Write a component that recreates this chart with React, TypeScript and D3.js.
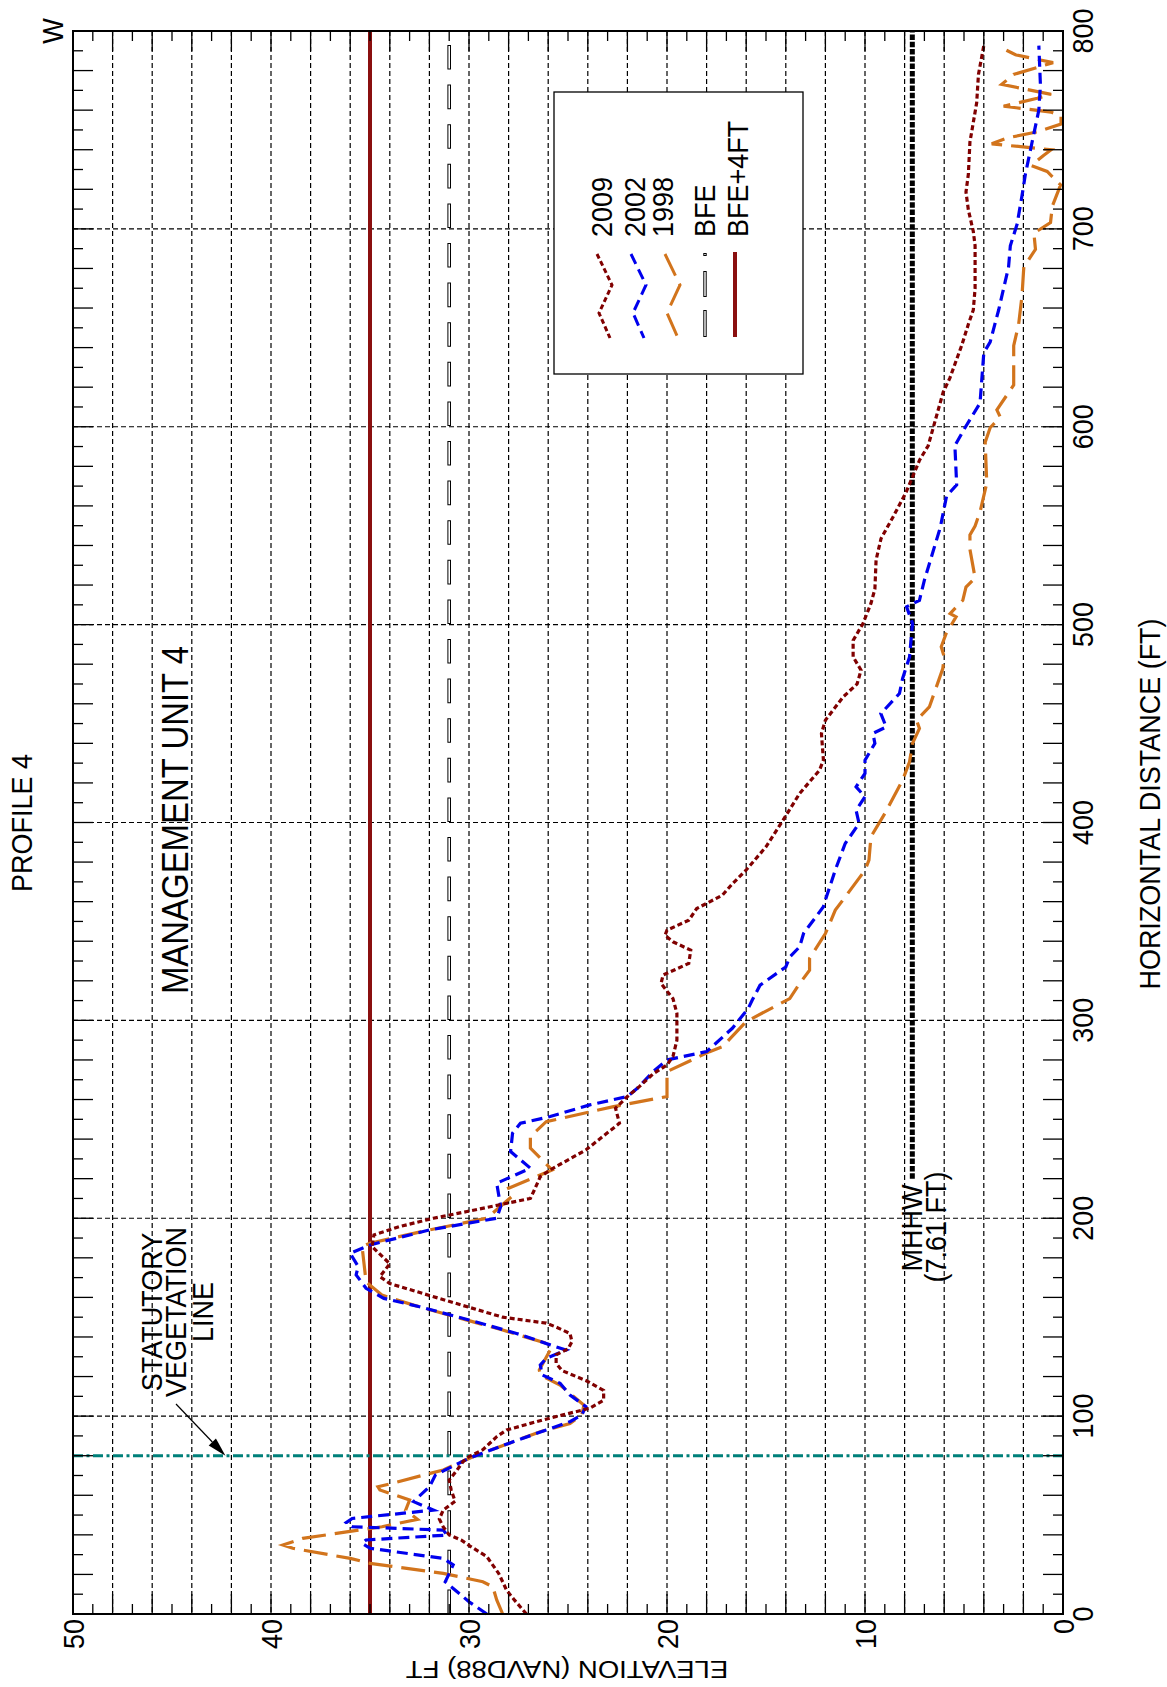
import React from 'react';
import * as d3 from 'd3';

// ---- data: [horizontal distance (ft), elevation (ft NAVD88)] ----
const s2009: [number, number][] = [
  [0, 27.1], [7, 27.7], [12, 28.1], [20.5, 28.5], [29, 29.1], [34, 29.9], [37.4, 30.4], [40, 31.0],
  [44, 31.3], [48, 31.5], [52.5, 31.3], [57, 30.7], [62.7, 30.9], [67.7, 31.0], [72.8, 30.6], [77, 30.3],
  [79.5, 30.0], [83, 29.3], [89.6, 28.6], [93, 28.1], [98, 26.3], [100.5, 25.3], [104, 23.9], [108, 23.2],
  [113, 23.2], [118, 24.1], [123, 25.3], [126.7, 25.6], [131, 25.6], [134, 25.0], [137.6, 24.8], [141.8, 24.9],
  [145, 25.6], [147, 26.1], [150, 28.3], [155, 30.0], [161, 32.0], [167, 34.0], [170.5, 34.5], [177, 34.0],
  [185.7, 34.9], [191.6, 34.8], [195.8, 33.5], [200, 31.8], [203.4, 30.1], [206.7, 28.5], [210, 26.9],
  [214.3, 26.7], [221, 26.4], [225, 25.8], [234.5, 24.1], [248, 22.4], [255.6, 22.6], [261.5, 22.0],
  [266.5, 21.4], [273, 20.7], [277.5, 20.0], [281.7, 19.7], [290, 19.5], [303.6, 19.5], [311, 19.7],
  [318.6, 20.3], [322.9, 20.2], [328.8, 18.9], [335.5, 18.8], [339.7, 19.7], [343, 20.1], [345.6, 20.0],
  [350.6, 18.9], [356.5, 18.5], [363.3, 17.2], [369, 16.7], [376, 16.0], [387.7, 15.0], [401, 14.15],
  [414.7, 13.3], [426.4, 12.3], [431.5, 12.1], [445, 12.2], [451.7, 12.0], [463.5, 11.1], [470, 10.4],
  [477, 10.2], [483.7, 10.6], [492, 10.6], [500.6, 10.1], [510.7, 9.7], [518, 9.5], [532.7, 9.44],
  [543.5, 9.19], [554.3, 8.59], [567, 7.92], [583.2, 7.24], [590.4, 6.81], [617.5, 6.05], [624.7, 5.71],
  [641, 5.12], [651.8, 4.78], [659, 4.53], [669.9, 4.44], [691.5, 4.44], [698.7, 4.53], [709.6, 4.78],
  [718.6, 4.9], [727.6, 4.78], [743.9, 4.7], [763.7, 4.36], [778, 4.27], [792.6, 4.0],
];

const s2002: [number, number][] = [
  [0, 29.1], [6.2, 30.0], [16.3, 31.2], [24.8, 30.8], [28.1, 31.3], [33.2, 35.0], [35.7, 35.4], [37.4, 35.2],
  [39.9, 31.1], [42.4, 31.3], [44.1, 35.9], [46.2, 36.2], [48.3, 35.9], [52.5, 31.8], [56.8, 32.8],
  [64.3, 32.0], [70.2, 31.7], [72.8, 31.2], [78.7, 30.0], [86.2, 28.0], [93, 26.1], [97.2, 24.9],
  [100.6, 24.3], [104.8, 24.1], [110.7, 24.9], [116.6, 25.4], [120.8, 26.3], [125.8, 26.4], [129.2, 26.1],
  [133.4, 25.1], [136, 25.9], [141.8, 27.6], [148.6, 30.0], [155.3, 32.5], [159.5, 34.3], [164.6, 35.2],
  [171.4, 35.7], [175.6, 35.6], [182.3, 36.0], [186.5, 35.0], [194.1, 32.0], [200, 28.6], [205.9, 28.4],
  [217.7, 28.6], [225.3, 26.9], [233.7, 27.9], [243, 27.8], [248, 27.4], [251.4, 25.9], [257.3, 23.9],
  [261.5, 22.0], [265.7, 21.5], [274.1, 20.7], [280, 20.0], [284.2, 18.0], [296, 16.7], [306, 15.9],
  [310.2, 15.7], [317.8, 15.3], [327, 14.0], [332, 13.8], [337.2, 13.3], [344, 13.1], [357.4, 12.1],
  [360.8, 12.0], [376, 11.5], [389.4, 11.0], [399.5, 10.3], [406.2, 10.45], [413, 10.0], [418, 10.45],
  [424.8, 10.0], [431.5, 10.0], [440, 9.5], [445, 9.6], [448.3, 8.93], [455, 9.2], [465.2, 8.26],
  [472.8, 8.1], [483.7, 7.75], [500.6, 7.6], [509, 7.9], [512.3, 7.25], [522.5, 7.0], [549, 6.2],
  [565, 5.88], [570.6, 5.37], [590.4, 5.46], [599.5, 4.95], [612, 4.19], [637.4, 4.0], [642.8, 3.68],
  [659, 3.25], [680.7, 2.75], [691.5, 2.66], [702.3, 2.32], [716.8, 2.07], [727.6, 1.9], [743.9, 1.56],
  [760, 1.22], [772.7, 1.14], [792.6, 1.22],
];

const s1998: [number, number][] = [
  [0, 28.3], [7.1, 28.6], [13.8, 28.8], [16.3, 29.3], [20.5, 31.3], [25.6, 35.0], [28.1, 36.0], [33.2, 38.9],
  [34.9, 39.4], [38.2, 38.4], [44.1, 34.4], [47.8, 32.6], [52.5, 33.2], [57.6, 33.0], [62.7, 34.5],
  [64.3, 34.6], [66, 33.9], [72.8, 31.3], [79.5, 29.8], [86.2, 28.0], [92.1, 26.4], [96.3, 24.9],
  [100.6, 24.3], [105.6, 24.2], [109.8, 24.7], [115.7, 25.4], [120.8, 26.4], [123.3, 26.45], [133.4, 25.9],
  [136.8, 26.1], [143.5, 28.3], [150.2, 30.7], [156.1, 32.8], [161.2, 34.4], [166.2, 35.0], [168, 35.2],
  [185.7, 35.4], [187.4, 35.0], [194.1, 32.0], [200, 29.1], [211.3, 27.8], [215.2, 28.0], [224.4, 25.8],
  [235.4, 26.9], [241.3, 26.9], [248.8, 26.1], [256.4, 22.7], [261.5, 20.0], [274.1, 20.0], [284.2, 17.85],
  [286.7, 17.2], [299.4, 16.0], [311, 13.8], [318.6, 13.3], [325.4, 12.8], [331.3, 12.8], [343.9, 12.0],
  [355.7, 11.5], [362.4, 11.0], [375.9, 10.0], [381, 9.8], [392.8, 9.7], [404.5, 9.0], [421.4, 8.1],
  [430.7, 7.75], [440, 7.6], [447.5, 7.25], [451.7, 7.4], [458.4, 6.75], [477.8, 6.07], [483.7, 6.0],
  [488.8, 6.15], [495.5, 5.9], [503.9, 5.4], [505.6, 5.7], [512.3, 5.06], [519, 4.9], [523.6, 4.44],
  [538, 4.7], [545.3, 4.7], [549.8, 4.44], [557, 4.19], [571.5, 3.85], [592.2, 3.93], [599.5, 3.68],
  [604.9, 3.17], [608.5, 3.34], [621.1, 2.49], [641, 2.49], [651.8, 2.24], [666.2, 2.07], [680.7, 1.98],
  [689.7, 1.39], [697.8, 1.47], [703.2, 0.63], [711.4, 0.54], [722.2, 0.12], [729, 0.8], [732, 1.6],
  [737, 1.0], [740, 0.6], [743, 3.6], [746, 2.8], [749, 1.3], [753, 0.1], [757, 0.1], [759, 0.6],
  [762, 3.0], [766, 1.3], [768, 0.6], [773, 3.1], [778, 2.5], [784, 0.5], [788, 2.4], [791, 3.0],
];

const elevTickLabels = [0, 10, 20, 30, 40, 50];
const distTickLabels = [0, 100, 200, 300, 400, 500, 600, 700, 800];
const BFE = 31;
const BFE_PLUS_4 = 35;
const MHHW = 7.61;
const MHHW_START = 220;
const VEG_LINE = 80;

const FONT = 'Liberation Sans, Arial, Helvetica, sans-serif';
const C2009 = '#800000';
const C2002 = '#0000ee';
const C1998 = '#d2741c';
const CTEAL = '#00807a';

function VText(props: { x: number; y: number; anchor?: string; size?: number; sx?: number; children: React.ReactNode }) {
  const { x, y, anchor = 'middle', size = 30, sx = 0.9, children } = props;
  return (
    <text transform={`translate(${x},${y}) rotate(-90) scale(${sx},1)`} textAnchor={anchor} fontSize={size} fontFamily={FONT} fill="#000">
      {children}
    </text>
  );
}

export default function App() {
  const L = 73, R = 1063, T = 31, B = 1614;
  const xE = d3.scaleLinear().domain([0, 50]).range([R, L]);
  const yD = d3.scaleLinear().domain([0, 800]).range([B, T]);
  const line = d3.line<[number, number]>().x((p) => xE(p[1])).y((p) => yD(p[0]));

  const gridE = d3.range(2, 50, 2);
  const gridD = d3.range(100, 800, 100);
  const ticksE = d3.range(1, 50, 1);
  const ticksD = d3.range(10, 800, 10);

  // arrow geometry
  const a0 = [176, 1404], a1 = [xE(42.3), yD(VEG_LINE)];
  const dx = a1[0] - a0[0], dy = a1[1] - a0[1];
  const len = Math.hypot(dx, dy);
  const ux = dx / len, uy = dy / len;
  const bx = a1[0] - 19 * ux, by = a1[1] - 19 * uy;
  const px = -uy, py = ux;
  const head = `${a1[0]},${a1[1]} ${bx + 5 * px},${by + 5 * py} ${bx - 5 * px},${by - 5 * py}`;

  const zig = (x0: number) =>
    `M${x0},254 L${x0 + 15},285 L${x0 + 2},313 L${x0 + 13},338`;

  return (
    <svg width={1167} height={1687} style={{ position: 'absolute', left: 0, top: 0 }}>
      <rect x={0} y={0} width={1167} height={1687} fill="#fff" />

      {/* grid */}
      <g stroke="#000" strokeWidth={1.2} strokeDasharray="5,3" fill="none">
        {gridE.map((e) => (
          <line key={'ge' + e} x1={xE(e)} x2={xE(e)} y1={T} y2={B} />
        ))}
        {gridD.map((d) => (
          <line key={'gd' + d} x1={L} x2={R} y1={yD(d)} y2={yD(d)} />
        ))}
      </g>

      {/* reference lines */}
      <line x1={xE(BFE_PLUS_4)} x2={xE(BFE_PLUS_4)} y1={B} y2={T} stroke="#8a0f0f" strokeWidth={4} />
      <line x1={xE(BFE)} x2={xE(BFE)} y1={B} y2={T} stroke="#000" strokeWidth={3.6} strokeDasharray="24.6,15" />
      <line x1={xE(BFE)} x2={xE(BFE)} y1={B - 1} y2={T} stroke="#fff" strokeWidth={1.6} strokeDasharray="22.6,17" />
      <line x1={L} x2={R} y1={yD(VEG_LINE)} y2={yD(VEG_LINE)} stroke={CTEAL} strokeWidth={3} strokeDasharray="10,3.5,3,3.5" />
      <line x1={xE(MHHW)} x2={xE(MHHW)} y1={yD(MHHW_START)} y2={yD(800)} stroke="#000" strokeWidth={5} strokeDasharray="5.5,1.8" />

      {/* profiles */}
      <path d={line(s1998) || ''} fill="none" stroke={C1998} strokeWidth={3.2} strokeDasharray="24,9" />
      <path d={line(s2002) || ''} fill="none" stroke={C2002} strokeWidth={3.2} strokeDasharray="11,6" />
      <path d={line(s2009) || ''} fill="none" stroke={C2009} strokeWidth={3.2} strokeDasharray="5,3" />

      {/* legend */}
      <rect x={554} y={92} width={249} height={282} fill="#fff" stroke="#000" strokeWidth={1.3} />
      <path d={zig(597)} fill="none" stroke={C2009} strokeWidth={3} strokeDasharray="5,3" />
      <path d={zig(631)} fill="none" stroke={C2002} strokeWidth={3} strokeDasharray="11,6" />
      <path d={zig(665)} fill="none" stroke={C1998} strokeWidth={3} strokeDasharray="24,9" />
      <line x1={705} x2={705} y1={337} y2={253} stroke="#000" strokeWidth={3.4} strokeDasharray="27,13,26,15,3,10" />
      <line x1={705} x2={705} y1={336} y2={253} stroke="#fff" strokeWidth={1.4} strokeDasharray="25,15,24,17,1,12" />
      <line x1={735} x2={735} y1={252} y2={337} stroke="#8a0f0f" strokeWidth={4} />
      <VText x={612} y={237} anchor="start">2009</VText>
      <VText x={645} y={237} anchor="start">2002</VText>
      <VText x={673} y={237} anchor="start">1998</VText>
      <VText x={715} y={237} anchor="start">BFE</VText>
      <VText x={748} y={237} anchor="start">BFE+4FT</VText>

      {/* frame & ticks */}
      <g stroke="#000" strokeWidth={1.3}>
        {ticksE.map((e) => {
          const l = e % 2 === 0 ? 20 : 10;
          return (
            <g key={'te' + e}>
              <line x1={xE(e)} x2={xE(e)} y1={T} y2={T + l} />
              <line x1={xE(e)} x2={xE(e)} y1={B} y2={B - l} />
            </g>
          );
        })}
        {ticksD.map((d) => {
          const l = d % 20 === 0 ? 20 : 10;
          return (
            <g key={'td' + d}>
              <line x1={L} x2={L + l} y1={yD(d)} y2={yD(d)} />
              <line x1={R} x2={R - l} y1={yD(d)} y2={yD(d)} />
            </g>
          );
        })}
      </g>
      <rect x={L} y={T} width={R - L} height={B - T} fill="none" stroke="#000" strokeWidth={2} />

      {/* tick labels */}
      {elevTickLabels.map((e) => (
        <VText key={'le' + e} x={xE(e) + 11} y={1619} anchor="end">{e}</VText>
      ))}
      {distTickLabels.map((d) => (
        <VText key={'ld' + d} x={1093} y={yD(d)}>{d}</VText>
      ))}

      {/* annotations */}
      <VText x={63} y={31}>W</VText>
      <VText x={32} y={823}>PROFILE 4</VText>
      <VText x={188} y={820} size={37} sx={0.89}>MANAGEMENT UNIT 4</VText>
      <VText x={1160} y={804}>HORIZONTAL DISTANCE (FT)</VText>
      <text transform="translate(567,1661) rotate(180) scale(1,0.9)" textAnchor="middle" fontSize={27.5} fontFamily={FONT}>
        ELEVATION (NAVD88) FT
      </text>
      <VText x={162} y={1312}>STATUTORY</VText>
      <VText x={186} y={1312}>VEGETATION</VText>
      <VText x={213} y={1312}>LINE</VText>
      <line x1={a0[0]} y1={a0[1]} x2={bx} y2={by} stroke="#000" strokeWidth={1.2} />
      <polygon points={head} fill="#000" />
      <VText x={922} y={1228}>MHHW</VText>
      <VText x={946} y={1227}>(7.61 FT)</VText>
    </svg>
  );
}
